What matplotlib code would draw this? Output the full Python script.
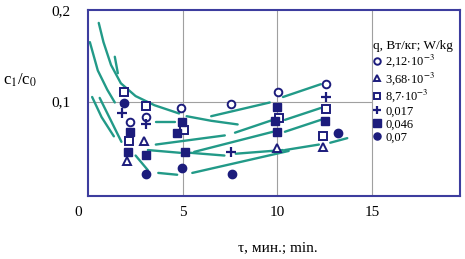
import matplotlib
matplotlib.use("Agg")
import matplotlib.pyplot as plt

plt.rcParams['font.family'] = ['Liberation Serif', 'DejaVu Serif']
plt.rcParams['mathtext.fontset'] = 'stix'

# measured points, one list pair per heat load q
circ_x = [2.2, 3.04, 4.9, 7.54, 10.03, 12.6]
circ_y = [0.078, 0.083, 0.093, 0.097, 0.111, 0.119]
tri_x = [2.04, 2.94, 9.98, 12.4]
tri_y = [0.035, 0.057, 0.049, 0.050]
sq_x = [1.88, 2.14, 3.04, 5.05, 10.1, 12.6, 12.4]
sq_y = [0.110, 0.057, 0.095, 0.069, 0.082, 0.092, 0.062]
plus_x = [1.78, 3.04, 7.54, 12.6]
plus_y = [0.087, 0.075, 0.045, 0.105]
fsq_x = [2.2, 2.09, 3.04, 4.95, 4.7, 5.1, 10.0, 9.87, 10.0, 12.5]
fsq_y = [0.067, 0.045, 0.042, 0.078, 0.066, 0.045, 0.094, 0.079, 0.067, 0.079]
fc_x = [1.88, 3.04, 4.97, 7.6, 13.2]
fc_y = [0.098, 0.021, 0.027, 0.021, 0.066]

labels = ['2,12$\\cdot$10$^{-3}$', '3,68$\\cdot$10$^{-3}$', '8,7$\\cdot$10$^{-3}$',
          '0,017', '0,046', '0,07']

# hand drawn trend lines (segments)
seg_x = [
    [0.55, 0.8, 1.2, 1.72, 2.5, 3.5, 4.8],
    [5.2, 6.5, 7.9],
    [0.08, 0.5, 1.0, 1.4],
    [1.4, 1.56],
    [0.2, 0.7, 1.35],
    [0.6, 1.2, 1.75],
    [2.5, 3.15],
    [3.6, 4.6],
    [3.7, 4.7],
    [3.57, 7.22],
    [7.76, 9.77],
    [10.4, 12.3],
    [6.5, 9.6],
    [10.3, 12.3],
    [3.15, 4.85],
    [5.6, 9.77],
    [10.4, 12.3],
    [5.4, 7.2],
    [7.8, 10.3],
    [10.4, 12.2],
    [12.8, 13.7],
    [5.5, 10.6],
]
seg_y = [
    [0.186, 0.165, 0.140, 0.120, 0.106, 0.096, 0.087],
    [0.084, 0.079, 0.075],
    [0.165, 0.134, 0.113, 0.099],
    [0.149, 0.131],
    [0.105, 0.083, 0.062],
    [0.104, 0.079, 0.056],
    [0.041, 0.025],
    [0.078, 0.078],
    [0.022, 0.020],
    [0.053, 0.063],
    [0.066, 0.080],
    [0.080, 0.093],
    [0.084, 0.099],
    [0.105, 0.119],
    [0.047, 0.044],
    [0.045, 0.067],
    [0.067, 0.080],
    [0.044, 0.041],
    [0.043, 0.047],
    [0.047, 0.053],
    [0.055, 0.060],
    [0.022, 0.046],
]

navy = '#1c1c7c'
teal = '#229a88'
frame = '#3d3d9e'

fig = plt.figure(figsize=(4.65, 2.59), dpi=100)
ax = fig.add_axes([0.19, 0.243, 0.799, 0.718])
ax.set_xlim(0, 19.66)
ax.set_ylim(-0.0033, 0.2)

for x in [5, 10, 15]:
    ax.axvline(x, color='#a0a0a0', lw=0.8, zorder=0)
ax.hlines(0.1, 0, 15, color='#a0a0a0', lw=0.8, zorder=0)

for xs, ys in zip(seg_x, seg_y):
    ax.plot(xs, ys, color=teal, lw=1.7, solid_capstyle='round', zorder=2)

ms = 5.5
h1, = ax.plot(circ_x, circ_y, 'o', ms=ms, mfc='white', mec=navy, mew=1.4, ls='none', zorder=3)
h2, = ax.plot(tri_x, tri_y, '^', ms=ms, mfc='white', mec=navy, mew=1.4, ls='none', zorder=3)
h3, = ax.plot(sq_x, sq_y, 's', ms=ms, mfc='white', mec=navy, mew=1.4, ls='none', zorder=3)
h4, = ax.plot(plus_x, plus_y, '+', ms=7, mec=navy, mew=1.6, ls='none', zorder=3)
h5, = ax.plot(fsq_x, fsq_y, 's', ms=ms + 0.5, color=navy, ls='none', zorder=3)
h6, = ax.plot(fc_x, fc_y, 'o', ms=ms + 0.5, color=navy, ls='none', zorder=3)

leg = ax.legend([h1, h2, h3, h4, h5, h6], labels, title='q, Вт/кг; W/kg',
                loc='upper left', bbox_to_anchor=(0.75, 0.875), frameon=False,
                fontsize=9, title_fontsize=9.5, handlelength=0.6, handletextpad=0.35,
                labelspacing=0.08, borderpad=0, alignment='left', markerscale=0.85)

for s in ax.spines.values():
    s.set_color(frame)
    s.set_linewidth(1.5)

ax.set_xticks([5, 10, 15])
ax.set_xticklabels(['5', '10', '15'])
ax.set_yticks([0.1, 0.2])
ax.set_yticklabels(['0,1', '0,2'])
ax.tick_params(length=0, labelsize=11, colors='black')
ax.tick_params(axis='x', pad=7)
ax.tick_params(axis='y', pad=13)
ax.text(-0.56, -0.055, '0', transform=ax.get_xaxis_transform(), ha='center', va='top', fontsize=11)

fig.text(20 / 465, 1 - 80 / 259, 'c$_1$/c$_0$', ha='center', va='center', fontsize=12)
fig.text(278 / 465, 1 - 248 / 259, 'τ, мин.; min.', ha='center', va='center', fontsize=11)

fig.savefig('out.png', dpi=100)
